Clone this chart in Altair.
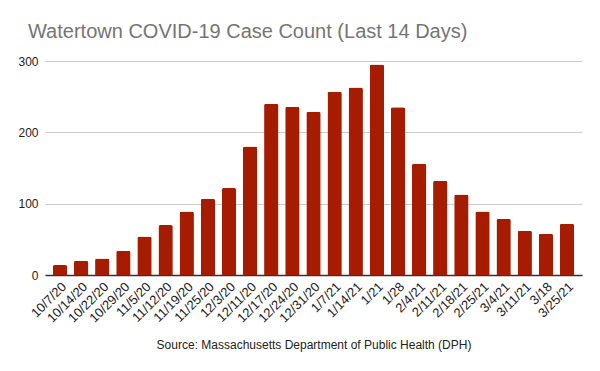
import altair as alt
import pandas as pd

dates = ["10/7/20", "10/14/20", "10/22/20", "10/29/20", "11/5/20", "11/12/20",
         "11/19/20", "11/25/20", "12/3/20", "12/11/20", "12/17/20", "12/24/20",
         "12/31/20", "1/7/21", "1/14/21", "1/21", "1/28", "2/4/21", "2/11/21",
         "2/18/21", "2/25/21", "3/4/21", "3/11/21", "3/18", "3/25/21"]
cases = [14, 20, 23, 34, 54, 70, 89, 107, 122, 180, 240, 236, 229, 257, 263,
         295, 235, 156, 132, 113, 89, 79, 62, 58, 72]

df = pd.DataFrame({"date": dates, "cases": cases})

FONT = "Liberation Sans"

chart = alt.Chart(df).mark_bar(
    color="#a61c00", cornerRadiusTopLeft=2, cornerRadiusTopRight=2
).encode(
    x=alt.X("date:N", sort=dates,
            scale=alt.Scale(paddingInner=0.32, paddingOuter=0.37),
            axis=alt.Axis(title="Source: Massachusetts Department of Public Health (DPH)",
                          labelAngle=-45, labelAlign="right", labelBaseline="top",
                          labelFontSize=13, labelColor="#222222", labelFont=FONT,
                          labelPadding=5, labelOverlap=False,
                          ticks=False, domainColor="#333333", domainWidth=1.3,
                          titleFont=FONT, titleFontSize=12, titleFontWeight="normal",
                          titleColor="#222222", titlePadding=15)),
    y=alt.Y("cases:Q",
            scale=alt.Scale(domain=[0, 300], nice=False),
            axis=alt.Axis(title=None, values=[0, 100, 200, 300], ticks=False,
                          domain=False, gridColor="#cccccc", labelFont=FONT,
                          labelFontSize=12, labelColor="#222222", labelPadding=7)),
).properties(
    width=537, height=214,
    title=alt.TitleParams("Watertown COVID-19 Case Count (Last 14 Days)",
                          anchor="start", dx=10, offset=13, font=FONT,
                          fontSize=20, fontWeight="normal", color="#757575"),
    autosize=alt.AutoSizeParams(type="none"),
    padding={"left": 37, "top": 53, "right": 10, "bottom": 85},
).configure_view(stroke=None)

chart.save("out.html", embed_options={"renderer": "svg", "actions": False})
